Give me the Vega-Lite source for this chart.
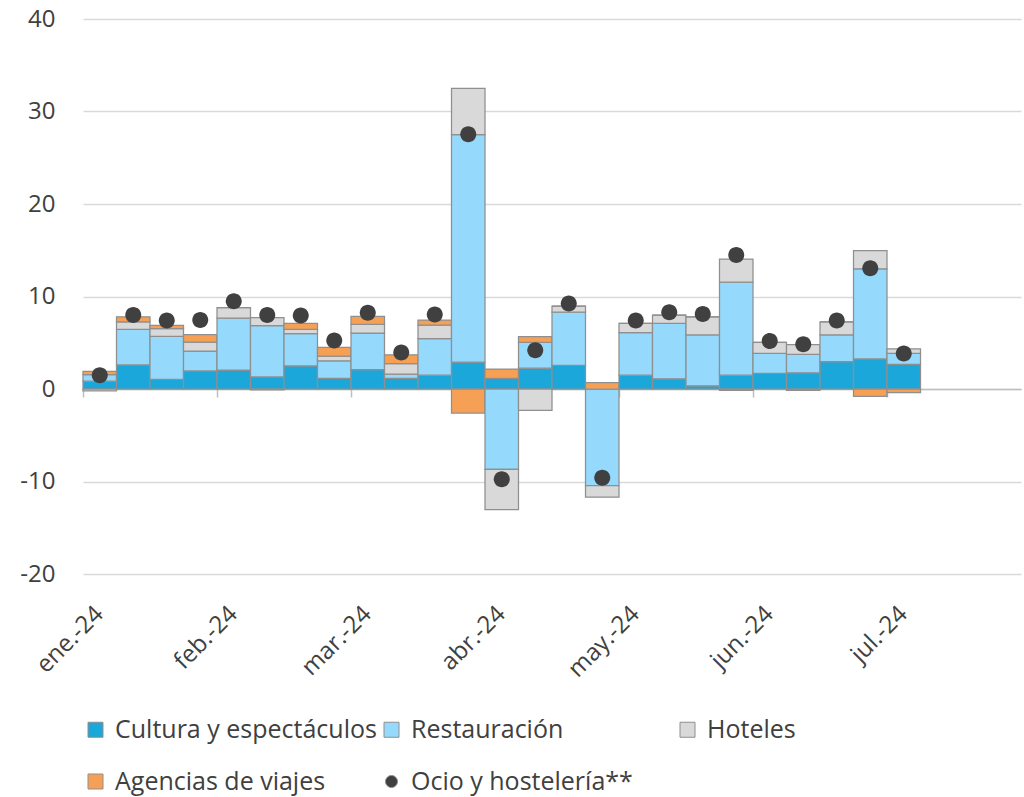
{
  "$schema": "https://vega.github.io/schema/vega-lite/v6.json",
  "width": 938,
  "height": 555,
  "autosize": {"type": "none"},
  "padding": {"left": 83, "top": 19, "right": 3, "bottom": 223},
  "background": "white",
  "config": {"view": {"stroke": null}, "font": "Open Sans"},
  "datasets": {
    "semanas": [
      {"semana": "S01", "cultura": 0.85, "restauracion": 0.7, "hoteles": -0.2, "agencias": 0.35, "ocio": 1.5},
      {"semana": "S02", "cultura": 2.6, "restauracion": 3.85, "hoteles": 0.8, "agencias": 0.55, "ocio": 8.0},
      {"semana": "S03", "cultura": 1.05, "restauracion": 4.65, "hoteles": 0.83, "agencias": 0.36, "ocio": 7.4},
      {"semana": "S04", "cultura": 1.95, "restauracion": 2.15, "hoteles": 0.97, "agencias": 0.8, "ocio": 7.45},
      {"semana": "S05", "cultura": 2.05, "restauracion": 5.6, "hoteles": 1.15, "agencias": 0, "ocio": 9.5},
      {"semana": "S06", "cultura": 1.3, "restauracion": 5.55, "hoteles": 0.86, "agencias": -0.1, "ocio": 8.0},
      {"semana": "S07", "cultura": 2.5, "restauracion": 3.5, "hoteles": 0.45, "agencias": 0.65, "ocio": 7.95},
      {"semana": "S08", "cultura": 1.15, "restauracion": 1.9, "hoteles": 0.5, "agencias": 0.95, "ocio": 5.25},
      {"semana": "S09", "cultura": 2.1, "restauracion": 3.95, "hoteles": 0.95, "agencias": 0.85, "ocio": 8.25},
      {"semana": "S10", "cultura": 1.15, "restauracion": 0.45, "hoteles": 1.15, "agencias": 0.95, "ocio": 3.95},
      {"semana": "S11", "cultura": 1.5, "restauracion": 3.95, "hoteles": 1.45, "agencias": 0.55, "ocio": 8.05},
      {"semana": "S12", "cultura": 2.9, "restauracion": 24.6, "hoteles": 5.0, "agencias": -2.6, "ocio": 27.55},
      {"semana": "S13", "cultura": 1.15, "restauracion": -8.7, "hoteles": -4.35, "agencias": 1.0, "ocio": -9.75},
      {"semana": "S14", "cultura": 2.25, "restauracion": 2.8, "hoteles": -2.3, "agencias": 0.6, "ocio": 4.2},
      {"semana": "S15", "cultura": 2.55, "restauracion": 5.75, "hoteles": 0.65, "agencias": 0, "ocio": 9.25},
      {"semana": "S16", "cultura": 0, "restauracion": -10.45, "hoteles": -1.25, "agencias": 0.7, "ocio": -9.6},
      {"semana": "S17", "cultura": 1.5, "restauracion": 4.6, "hoteles": 1.0, "agencias": 0, "ocio": 7.4},
      {"semana": "S18", "cultura": 1.1, "restauracion": 6.0, "hoteles": 0.9, "agencias": 0, "ocio": 8.3},
      {"semana": "S19", "cultura": 0.35, "restauracion": 5.5, "hoteles": 1.95, "agencias": 0, "ocio": 8.1},
      {"semana": "S20", "cultura": 1.5, "restauracion": 10.05, "hoteles": 2.5, "agencias": -0.15, "ocio": 14.5},
      {"semana": "S21", "cultura": 1.7, "restauracion": 2.15, "hoteles": 1.2, "agencias": 0, "ocio": 5.2},
      {"semana": "S22", "cultura": 1.75, "restauracion": 2.0, "hoteles": 1.05, "agencias": -0.15, "ocio": 4.85},
      {"semana": "S23", "cultura": 2.95, "restauracion": 2.9, "hoteles": 1.4, "agencias": 0, "ocio": 7.4},
      {"semana": "S24", "cultura": 3.25, "restauracion": 9.75, "hoteles": 1.95, "agencias": -0.8, "ocio": 13.05},
      {"semana": "S25", "cultura": 2.65, "restauracion": 1.2, "hoteles": 0.5, "agencias": -0.4, "ocio": 3.85}
    ],
    "series": [
      {"clave": "cultura", "serie": "Cultura y espectáculos", "orden": 1},
      {"clave": "restauracion", "serie": "Restauración", "orden": 2},
      {"clave": "hoteles", "serie": "Hoteles", "orden": 3},
      {"clave": "agencias", "serie": "Agencias de viajes", "orden": 4},
      {"clave": "ocio", "serie": "Ocio y hostelería**", "orden": 5}
    ]
  },
  "data": {"name": "semanas"},
  "transform": [
    {"fold": ["cultura", "restauracion", "hoteles", "agencias", "ocio"], "as": ["clave", "valor"]},
    {"lookup": "clave", "from": {"data": {"name": "series"}, "key": "clave", "fields": ["serie", "orden"]}}
  ],
  "encoding": {
    "x": {
      "field": "semana",
      "type": "ordinal",
      "scale": {
        "domain": ["S01","S02","S03","S04","S05","S06","S07","S08","S09","S10","S11","S12","S13","S14","S15","S16","S17","S18","S19","S20","S21","S22","S23","S24","S25","S26","S27","S28"],
        "paddingInner": 0,
        "paddingOuter": 0
      },
      "axis": {
        "values": ["S01", "S05", "S09", "S13", "S17", "S21", "S25"],
        "labelExpr": "datum.value == 'S01' ? 'ene.-24' : datum.value == 'S05' ? 'feb.-24' : datum.value == 'S09' ? 'mar.-24' : datum.value == 'S13' ? 'abr.-24' : datum.value == 'S17' ? 'may.-24' : datum.value == 'S21' ? 'jun.-24' : 'jul.-24'",
        "bandPosition": 0,
        "offset": -185,
        "domainColor": "#bfbfbf",
        "domainWidth": 1.5,
        "tickColor": "#bfbfbf",
        "tickWidth": 1.5,
        "tickSize": 8,
        "labelAngle": -45,
        "labelAlign": "right",
        "labelBaseline": "middle",
        "labelFontSize": 24,
        "labelColor": "#404040",
        "labelPadding": 213,
        "labelOffset": 0,
        "labelOverlap": false,
        "title": null,
        "grid": false
      }
    }
  },
  "layer": [
    {
      "transform": [{"filter": "datum.clave !== 'ocio'"}],
      "mark": {"type": "bar", "stroke": "#8f8f8f", "strokeWidth": 1.25},
      "encoding": {
        "y": {
          "field": "valor",
          "type": "quantitative",
          "stack": "zero",
          "scale": {"domain": [-20, 40], "nice": false, "zero": false},
          "axis": {
            "values": [-20, -10, 0, 10, 20, 30, 40],
            "labelExpr": "datum.value < 0 ? '-' + abs(datum.value) : '' + datum.value",
            "domain": false,
            "ticks": false,
            "grid": true,
            "gridColor": "#d9d9d9",
            "gridWidth": 1.5,
            "labelFontSize": 24,
            "labelColor": "#404040",
            "labelPadding": 28,
            "title": null
          }
        },
        "color": {
          "field": "serie",
          "type": "nominal",
          "scale": {
            "domain": ["Cultura y espectáculos", "Restauración", "Hoteles", "Agencias de viajes", "Ocio y hostelería**"],
            "range": ["#1ca7da", "#95d9fd", "#d9d9d9", "#f6a056", "#404040"]
          },
          "legend": {
            "title": null, "orient": "none", "legendX": 0, "legendY": 698,
            "direction": "horizontal", "columns": 3, "gridAlign": "all",
            "columnPadding": 2, "rowPadding": 26, "labelFontSize": 25, "labelColor": "#404040",
            "labelLimit": 0,
            "symbolSize": 225, "symbolStrokeColor": "#8f8f8f", "symbolStrokeWidth": 1,
            "labelOffset": 7, "padding": 0, "symbolOpacity": 1
          }
        },
        "order": {"field": "orden", "type": "quantitative", "sort": "ascending"}
      }
    },
    {
      "transform": [{"filter": "datum.clave === 'ocio'"}],
      "mark": {"type": "point", "filled": true, "opacity": 1, "size": 400},
      "encoding": {
        "y": {"field": "valor", "type": "quantitative"},
        "color": {"field": "serie", "type": "nominal"},
        "shape": {
          "field": "serie",
          "type": "nominal",
          "scale": {
            "domain": ["Cultura y espectáculos", "Restauración", "Hoteles", "Agencias de viajes", "Ocio y hostelería**"],
            "range": ["square", "square", "square", "square", "M-0.8,0A0.8,0.8 0 1,0 0.8,0A0.8,0.8 0 1,0 -0.8,0Z"]
          },
          "legend": {
            "title": null, "orient": "none", "legendX": 0, "legendY": 698,
            "direction": "horizontal", "columns": 3, "gridAlign": "all",
            "columnPadding": 2, "rowPadding": 26, "labelFontSize": 25, "labelColor": "#404040",
            "labelLimit": 0,
            "symbolSize": 225, "symbolStrokeColor": "#8f8f8f", "symbolStrokeWidth": 1,
            "labelOffset": 7, "padding": 0, "symbolOpacity": 1
          }
        }
      }
    }
  ]
}
